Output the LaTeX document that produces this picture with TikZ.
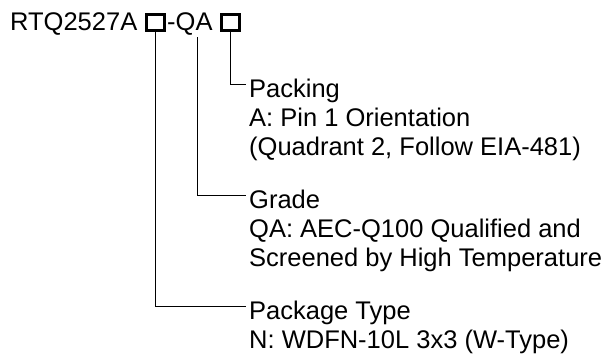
\documentclass[tikz,border=0pt]{standalone}
\usepackage{fontspec}
\setmainfont{Liberation Sans}
\begin{document}
\begin{tikzpicture}[x=1pt,y=-1pt,
  lbl/.style={anchor=base west, inner sep=0pt, font=\fontsize{25.5}{30}\selectfont},
  conn/.style={line width=0.8pt, draw=black},
  codebox/.style={draw, line width=2.6pt, minimum width=18pt, minimum height=16.5pt, inner sep=0pt}]
\useasboundingbox (0,0) rectangle (612,356);
% title
\node[lbl] (pn) at (10,30) {RTQ2527A};
\node[codebox] (b1) at (155.5,22.5) {};
\node[lbl] (qa) at (167,30) {-QA};
\node[codebox] (b2) at (230.5,22.5) {};
\coordinate (qtop) at (197,37);
% packing
\node[lbl] (pk)  at (249,97)  {Packing};
\node[lbl] (pk1) at (249,126) {A: Pin 1 Orientation};
\node[lbl] (pk2) at (249,155) {(Quadrant 2, Follow EIA-481)};
% grade
\node[lbl] (gr)  at (249,208) {Grade};
\node[lbl] (gr1) at (249,237) {QA: AEC-Q100 Qualified and};
\node[lbl] (gr2) at (249,266) {Screened by High Temperature};
% package
\node[lbl] (pt)  at (249,319) {Package Type};
\node[lbl] (pt1) at (249,348) {N: WDFN-10L 3x3 (W-Type)};
% connectors
\draw[conn] (b2.south) |- ([xshift=-3pt,yshift=13pt]pk.base west);
\draw[conn] (qtop) |- ([xshift=-3pt,yshift=13pt]gr.base west);
\draw[conn] (b1.south) |- ([xshift=-3pt,yshift=13pt]pt.base west);
\end{tikzpicture}
\end{document}
